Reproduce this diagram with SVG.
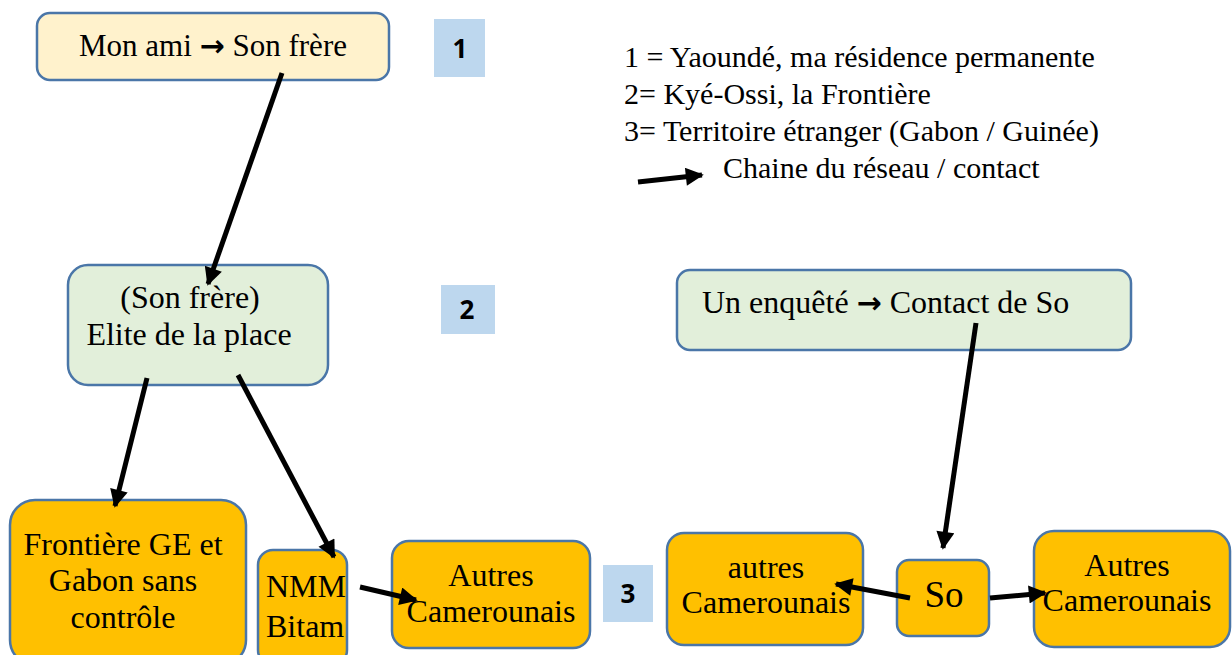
<svg xmlns="http://www.w3.org/2000/svg" width="1232" height="655" viewBox="0 0 1232 655">
<defs>
<marker id="ah" viewBox="0 0 10 10" refX="9" refY="5" markerWidth="3.8" markerHeight="3.6" orient="auto" markerUnits="strokeWidth">
<path d="M0,0 L10,5 L0,10 z" fill="#000"/>
</marker>
<style>
.t{font-family:"Liberation Serif","Times New Roman",serif;font-size:30px;fill:#000}
.b{font-size:32px}
.c{text-anchor:middle}
.arw{font-family:"DejaVu Sans",sans-serif;font-weight:bold}
.lbl{font-family:"Open Sans","Liberation Sans",sans-serif;font-weight:bold;font-size:26px;text-anchor:middle;fill:#000}
.lb{fill:#BDD7EE}
.y{fill:#FFF2CC;stroke:#4A76A8;stroke-width:2.5}
.g{fill:#E2EFDA;stroke:#4A76A8;stroke-width:2.5}
.o{fill:#FFC000;stroke:#4A76A8;stroke-width:2.5}
.ar{stroke:#000;stroke-width:5;fill:none;marker-end:url(#ah)}
</style>
</defs>
<rect width="1232" height="655" fill="#fff"/>
<g id="n1"><rect class="y" x="37" y="13" width="352" height="67" rx="13"/><text class="t c" x="213" y="56" style="font-size:31px">Mon ami <tspan class="arw" font-size="30">→</tspan> Son frère</text></g>
<g id="l1"><rect class="lb" x="434" y="19" width="51" height="58"/><text class="lbl" x="460" y="58">1</text></g>
<g id="legend">
<text class="t" x="624" y="67">1 = Yaoundé, ma résidence permanente</text>
<text class="t" x="624" y="104">2= Kyé-Ossi, la Frontière</text>
<text class="t" x="624" y="141">3= Territoire étranger (Gabon / Guinée)</text>
<text class="t" x="723" y="178">Chaine du réseau / contact</text>
</g>
<g id="n2"><rect class="g" x="68" y="265" width="260" height="120" rx="20"/><text class="t b c" x="190" y="308">(Son frère)</text><text class="t b c" x="189" y="345">Elite de la place</text></g>
<g id="l2"><rect class="lb" x="441" y="285" width="54" height="49"/><text class="lbl" x="467" y="319">2</text></g>
<g id="n3"><rect class="g" x="677" y="270" width="454" height="80" rx="13"/><text class="t b" x="702" y="313">Un enquêté <tspan class="arw" font-size="30">→</tspan>  Contact de So</text></g>
<g id="n4"><rect class="o" x="10" y="500" width="236" height="165" rx="25"/><text class="t b c" x="123" y="555">Frontière GE et</text><text class="t b c" x="123" y="591">Gabon sans</text><text class="t b c" x="123" y="628">contrôle</text></g>
<g id="n5"><rect class="o" x="258" y="550" width="89" height="115" rx="15"/><text class="t b" x="266" y="597">NMM</text><text class="t b" x="266" y="637">Bitam</text></g>
<g id="n6"><rect class="o" x="392" y="541" width="198" height="107" rx="17"/><text class="t b c" x="491" y="586">Autres</text><text class="t b c" x="491" y="622">Camerounais</text></g>
<g id="l3"><rect class="lb" x="603" y="565" width="50" height="57"/><text class="lbl" x="628" y="603">3</text></g>
<g id="n7"><rect class="o" x="667" y="533" width="196" height="112" rx="17"/><text class="t b c" x="766" y="578">autres</text><text class="t b c" x="766" y="613">Camerounais</text></g>
<g id="n8"><rect class="o" x="897" y="560" width="92" height="76" rx="12"/><text class="t c" x="944" y="607" style="font-size:37px">So</text></g>
<g id="n9"><rect class="o" x="1034" y="531" width="196" height="116" rx="20"/><text class="t b c" x="1127" y="576">Autres</text><text class="t b c" x="1127" y="611">Camerounais</text></g>
<g id="connectors">
<line class="ar" x1="282" y1="73" x2="208" y2="284"/>
<line class="ar" x1="147" y1="378" x2="115" y2="506"/>
<line class="ar" x1="238" y1="375" x2="334" y2="557"/>
<line class="ar" x1="360" y1="587" x2="416" y2="600"/>
<line class="ar" x1="910" y1="598" x2="836" y2="584"/>
<line class="ar" x1="990" y1="598" x2="1045" y2="593"/>
<line class="ar" x1="976" y1="323" x2="943" y2="548"/>
<line class="ar" x1="638" y1="182" x2="702" y2="175"/>
</g>
</svg>
